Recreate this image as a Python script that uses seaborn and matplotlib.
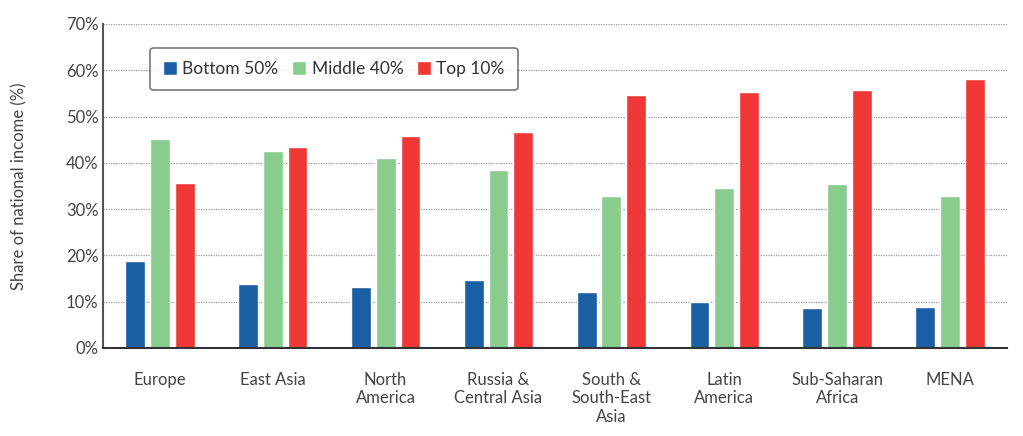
import pandas as pd
import numpy as np
import seaborn as sns
import matplotlib.pyplot as plt
from matplotlib.ticker import PercentFormatter

#####################################################
## Data
regions = ['Europe', 'East Asia', 'North\nAmerica', 'Russia &\nCentral Asia',
           'South &\nSouth-East\nAsia', 'Latin\nAmerica', 'Sub-Saharan\nAfrica', 'MENA']
bottom50 = [18.8, 13.8, 13.2, 14.7, 12.1, 9.9, 8.6, 8.9]
middle40 = [45.1, 42.5, 41.0, 38.4, 32.8, 34.5, 35.4, 32.8]
top10 = [35.6, 43.4, 45.8, 46.6, 54.6, 55.3, 55.7, 58.1]
groups = ['Bottom 50%', 'Middle 40%', 'Top 10%']
colors = ['#1a5ea3', '#88cc8e', '#ef3835']
#####################################################

df = pd.DataFrame({'Region': regions * 3,
                   'Group': np.repeat(groups, len(regions)),
                   'Share': bottom50 + middle40 + top10})

sns.set_style('white')
plt.rcParams['font.family'] = ['Lato', 'DejaVu Sans']

fig = plt.figure(figsize=(10.23, 4.36), dpi=100)
ax = fig.add_axes([0.101, 0.202, 0.883, 0.743])

sns.barplot(data=df, x='Region', y='Share', hue='Group', palette=colors,
            width=0.66, gap=0.2, saturation=1, ax=ax)

ax.set_ylim(0, 70)
ax.set_xlim(-0.5, 7.5)
ax.set_yticks(range(0, 71, 10))
ax.yaxis.set_major_formatter(PercentFormatter(decimals=0))
ax.grid(axis='y', linestyle=(0, (1, 1)), color='#999999', linewidth=0.9)
ax.set_axisbelow(True)
ax.tick_params(axis='both', length=0, labelsize=12, colors='#444444')
ax.tick_params(axis='x', pad=17)
ax.set_xlabel('')
ax.set_ylabel('Share of national income (%)', fontsize=12, color='#444444', labelpad=28)

for s in ['top', 'right']:
    ax.spines[s].set_visible(False)
ax.spines['left'].set_color('#555555')
ax.spines['left'].set_linewidth(1.5)
ax.spines['bottom'].set_color('#333333')
ax.spines['bottom'].set_linewidth(1.5)

leg = ax.legend(loc='upper left', bbox_to_anchor=(0.052, 0.926), ncol=3, frameon=True,
                fontsize=12.5, handlelength=0.8, handleheight=0.8, handletextpad=0.3,
                columnspacing=0.8, borderpad=0.75, borderaxespad=0, fancybox=True)
leg.get_frame().set_edgecolor('#555555')
leg.get_frame().set_linewidth(1.2)
for t in leg.get_texts():
    t.set_color('#333333')

fig.savefig('out.png', dpi=100)
